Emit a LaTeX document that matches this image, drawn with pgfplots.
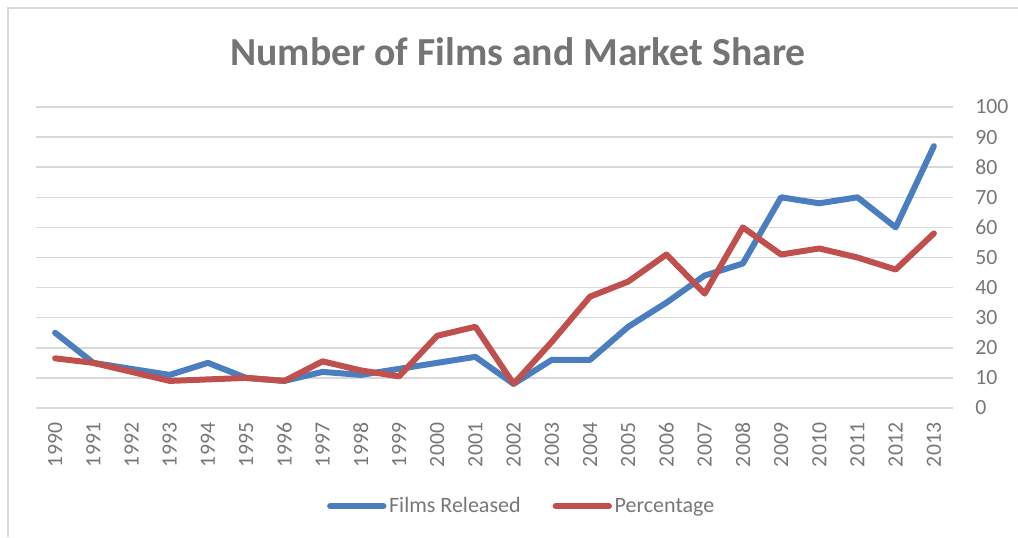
\documentclass[border=0pt]{standalone}
\usepackage{fontspec}
\setmainfont{Carlito}
\usepackage{pgfplots}
\pgfplotsset{compat=1.18}
\definecolor{blueS}{HTML}{4A7EBF}
\definecolor{redS}{HTML}{C0504D}
\definecolor{gridc}{HTML}{D9D9D9}
\definecolor{txt}{HTML}{777777}
\definecolor{ttl}{HTML}{747474}
\begin{document}
\begin{tikzpicture}
\useasboundingbox (0,0) rectangle (763.5pt,402.75pt);
\draw[gridc, line width=1.1pt] (6pt,0) -- (6pt,396.75pt) -- (763.5pt,396.75pt);
\node[anchor=base, text=ttl, font=\fontsize{29.8}{34}\selectfont\bfseries, inner sep=0pt] at (388.5pt,353.25pt) {Number of Films and Market Share};
\begin{axis}[
  at={(27pt,96.75pt)}, anchor=south west,
  scale only axis, width=687.75pt, height=225.75pt,
  xmin=-0.5, xmax=23.5, ymin=0, ymax=100,
  xtick={0,...,23},
  xticklabels={1990,1991,1992,1993,1994,1995,1996,1997,1998,1999,2000,2001,2002,2003,2004,2005,2006,2007,2008,2009,2010,2011,2012,2013},
  ytick={0,10,...,100},
  yticklabel pos=right,
  axis line style={draw=none},
  major tick length=0pt,
  ymajorgrids, grid style={gridc, line width=1.1pt},
  /pgf/number format/assume math mode=true,
  tick label style={font=\fontsize{16.3}{18}\selectfont, text=txt, inner sep=0pt},
  xticklabel style={rotate=90, anchor=east},
  xticklabel shift=11pt,
  yticklabel style={anchor=west},
  yticklabel shift=16.5pt,
  legend columns=2,
  legend style={at={(0.53,-0.326)}, anchor=center, draw=none, fill=none,
    font=\fontsize{16.5}{18}\selectfont, text=txt,
    /tikz/every even column/.append style={column sep=22pt},
    cells={anchor=west, inner sep=1pt}},
  legend image code/.code={\draw[#1, line width=4.5pt, line cap=round] (0pt,0pt) -- (40pt,0pt);},
  clip=false,
]
\addplot[blueS, line width=4.5pt, line cap=round, line join=round] coordinates {
(0,25) (1,15) (2,13) (3,11) (4,15) (5,10) (6,9) (7,12) (8,11) (9,13) (10,15) (11,17) (12,8) (13,16) (14,16) (15,27) (16,35) (17,44) (18,48) (19,70) (20,68) (21,70) (22,60) (23,87)};
\addlegendentry{Films Released}
\addplot[redS, line width=4.5pt, line cap=round, line join=round] coordinates {
(0,16.5) (1,15) (2,12) (3,9) (4,9.5) (5,10) (6,9) (7,15.5) (8,12.5) (9,10.5) (10,24) (11,27) (12,8) (13,22) (14,37) (15,42) (16,51) (17,38) (18,60) (19,51) (20,53) (21,50) (22,46) (23,58)};
\addlegendentry{Percentage}
\end{axis}
\end{tikzpicture}
\end{document}
